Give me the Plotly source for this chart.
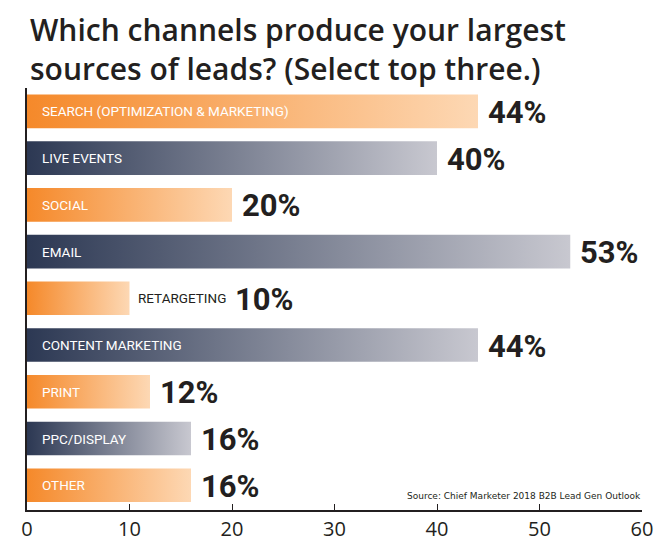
import plotly.graph_objects as go

categories = ["SEARCH (OPTIMIZATION & MARKETING)", "LIVE EVENTS", "SOCIAL", "EMAIL",
              "RETARGETING", "CONTENT MARKETING", "PRINT", "PPC/DISPLAY", "OTHER"]
values = [44, 40, 20, 53, 10, 44, 12, 16, 16]
color_group = ["orange", "dark", "orange", "dark", "orange", "dark", "orange", "dark", "orange"]
label_inside = [True, True, True, True, False, True, True, True, True]
x_ticks = [0, 10, 20, 30, 40, 50, 60]

title_lines = ["Which channels produce your largest", "sources of leads? (Select top three.)"]
source_text = "Source: Chief Marketer 2018 B2B Lead Gen Outlook"

gradients = {
    "orange": [[0, "#F5892A"], [1, "#FDD8B4"]],
    "dark": [[0, "#2C3853"], [1, "#C8C8D0"]],
}

LBL = "Roboto, sans-serif"
INK = "#231f20"
half = 0.36

fig = go.Figure()
annotations = []
for i, (cat, v, g, inside) in enumerate(zip(categories, values, color_group, label_inside)):
    fig.add_trace(go.Scatter(
        x=[0, v, v, 0, 0],
        y=[i - half, i - half, i + half, i + half, i - half],
        mode="lines", line=dict(width=0),
        fill="toself",
        fillgradient=dict(type="horizontal", colorscale=gradients[g]),
        hoverinfo="skip", showlegend=False,
    ))
    if inside:
        annotations.append(dict(x=0, y=i, xref="x", yref="y", text=cat, showarrow=False,
                                xanchor="left", yanchor="middle", xshift=13,
                                font=dict(family=LBL, size=13.5, color="white")))
        val_shift = 8
    else:
        annotations.append(dict(x=v, y=i, xref="x", yref="y", text=cat, showarrow=False,
                                xanchor="left", yanchor="middle", xshift=6,
                                font=dict(family=LBL, size=13.5, color=INK)))
        val_shift = 103
    annotations.append(dict(x=v, y=i, xref="x", yref="y", text=f"<b>{v}%</b>", showarrow=False,
                            xanchor="left", yanchor="middle", xshift=val_shift, yshift=-1,
                            font=dict(family=LBL, size=31, color=INK)))

annotations.append(dict(x=0, y=1, xref="paper", yref="paper", xshift=1, yshift=80 - 41,
                        text="<br>".join(title_lines), showarrow=False,
                        xanchor="left", yanchor="middle", align="left",
                        font=dict(family="Open Sans, sans-serif", size=30, weight=600, color=INK)))
annotations.append(dict(x=1, y=0, xref="paper", yref="paper", xshift=1, yshift=7,
                        text=source_text, showarrow=False,
                        xanchor="right", yanchor="bottom",
                        font=dict(family="DejaVu Sans, sans-serif", size=9, color=INK)))

fig.update_layout(
    width=663, height=546,
    margin=dict(l=19, r=29, t=80, b=39),
    paper_bgcolor="white", plot_bgcolor="white",
    annotations=annotations,
    xaxis=dict(range=[0, 60], tickvals=x_ticks, ticks="inside", ticklen=6, tickcolor=INK,
               showline=True, linecolor=INK, linewidth=1.5, showgrid=False, zeroline=False,
               tickfont=dict(family="Open Sans, sans-serif", size=20, color=INK), fixedrange=True),
    yaxis=dict(range=[8.53, -0.5], showticklabels=False, ticks="", showline=True,
               linecolor=INK, linewidth=1.5, showgrid=False, zeroline=False, fixedrange=True),
)

fig.write_html("out.html")
